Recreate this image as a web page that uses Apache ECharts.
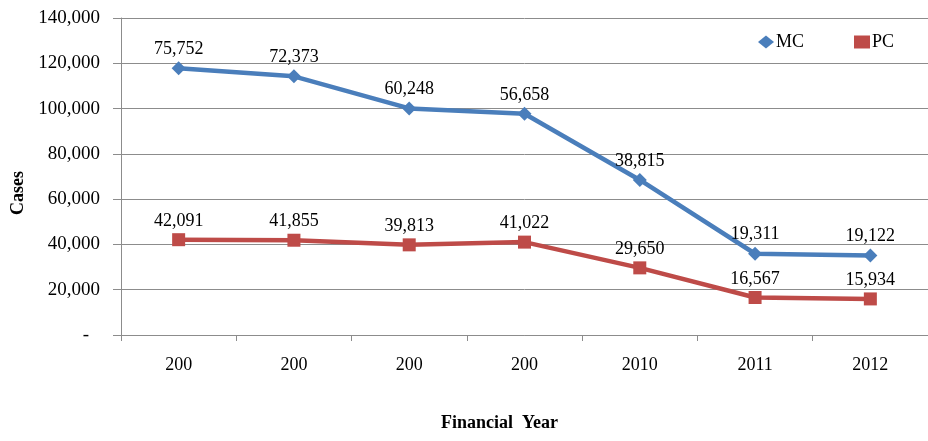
<!DOCTYPE html>
<html><head><meta charset="utf-8">
<script src="https://cdn.jsdelivr.net/npm/echarts@6/dist/echarts.min.js"></script>
<style>html,body{margin:0;padding:0;background:#fff}#c{width:928px;height:441px}</style>
</head><body><div id="c"></div>
<script>
const categories = ['200', '200', '200', '200', '2010', '2011', '2012'];
const pcValues = [42091, 41855, 39813, 41022, 29650, 16567, 15934];
const mcValues = [75752, 72373, 60248, 56658, 38815, 19311, 19122];
const yTicks = [0, 20000, 40000, 60000, 80000, 100000, 120000, 140000];

const font = '"Liberation Serif", "Times New Roman", serif';
const chart = echarts.init(document.getElementById('c'));
const fmt = v => v === 0 ? '-' : v.toLocaleString('en-US');
chart.setOption({
  animation: false,
  textStyle: { fontFamily: font },
  grid: { left: 121, top: 18, width: 816, bottom: 106 },
  legend: {
    right: 29, top: 28, itemGap: 50, itemWidth: 16, itemHeight: 13,
    textStyle: { fontFamily: font, fontSize: 18, color: '#000', padding: [0, 0, 0, -3] },
    data: [{ name: 'MC', icon: 'diamond' }, { name: 'PC', icon: 'rect' }]
  },
  xAxis: {
    type: 'category', data: categories, boundaryGap: true,
    axisLine: { lineStyle: { color: '#8c8c8c', width: 1 } },
    axisTick: { show: true, length: 6, lineStyle: { color: '#8c8c8c' } },
    axisLabel: { color: '#000', fontFamily: font, fontSize: 18, margin: 21 }
  },
  yAxis: {
    type: 'value', min: yTicks[0], max: yTicks[yTicks.length - 1], interval: 20000,
    axisLine: { show: true, lineStyle: { color: '#8c8c8c' } },
    axisTick: { show: true, length: 8, lineStyle: { color: '#8c8c8c' } },
    splitLine: { lineStyle: { color: '#8c8c8c', width: 1 } },
    axisLabel: {
      color: '#000', fontFamily: font, fontSize: 19, margin: 21,
      formatter: v => v === 0 ? '{d|-}' : fmt(v),
      rich: { d: { fontFamily: font, fontSize: 19, color: '#000', padding: [0, 11, 0, 0] } }
    }
  },
  graphic: [
    { type: 'text', left: 441, top: 414, style: { text: 'Financial  Year', font: 'bold 18px ' + font, fill: '#000' } },
    { type: 'text', x: 9, y: 215, rotation: Math.PI / 2, style: { text: 'Cases', font: 'bold 18px ' + font, fill: '#000' } }
  ],
  series: [
    {
      name: 'PC', type: 'line', stack: 'total', data: pcValues,
      symbol: 'rect', symbolSize: 13,
      lineStyle: { color: '#be4b48', width: 4.5 }, itemStyle: { color: '#be4b48' },
      label: { show: true, position: 'top', distance: 3, color: '#000', fontFamily: font, fontSize: 18, formatter: p => fmt(p.value) }
    },
    {
      name: 'MC', type: 'line', stack: 'total', data: mcValues,
      symbol: 'diamond', symbolSize: 14,
      lineStyle: { color: '#4a7ebb', width: 4.5 }, itemStyle: { color: '#4a7ebb' },
      label: { show: true, position: 'top', distance: 3, color: '#000', fontFamily: font, fontSize: 18, formatter: p => fmt(p.value) }
    }
  ]
});
</script></body></html>
